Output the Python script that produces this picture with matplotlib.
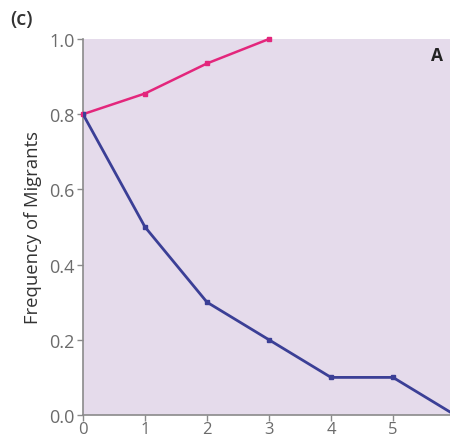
import matplotlib
matplotlib.use("Agg")
import matplotlib.pyplot as plt

gen = [0, 1, 2, 3, 4, 5, 6]
pink_x = [0, 1, 2, 3]
pink_y = [0.80, 0.855, 0.935, 1.00]
blue_y = [0.80, 0.50, 0.30, 0.20, 0.10, 0.10, 0.00]
yticks = [0.0, 0.2, 0.4, 0.6, 0.8, 1.0]

plt.rcParams['font.family'] = ['Open Sans', 'DejaVu Sans']

W, H = 450, 439
fig = plt.figure(figsize=(W/100, H/100), dpi=100)
left, right, top, bottom = 83, 450, 40, 416
ax = fig.add_axes([left/W, 1-bottom/H, (right-left)/W, (bottom-top)/H])
ax.set_facecolor('#e5dbeb')
ax.set_xlim(0, (right-left)/62.0)
ax.set_ylim(0, 1.0)

ax.plot(pink_x, pink_y, color='#e3267c', lw=1.8, marker='s', ms=3.5, clip_on=False, zorder=3)
ax.plot(gen, blue_y, color='#3b3f96', lw=2.0, marker='s', ms=3.5, zorder=3)

ax.set_yticks(yticks)
ax.set_yticklabels([f"{v:.1f}" for v in yticks])
ax.set_xticks(gen[:6])
for s in ['top', 'right']:
    ax.spines[s].set_visible(False)
for s in ['left', 'bottom']:
    ax.spines[s].set_color('#8a8a8a')
    ax.spines[s].set_linewidth(1.2)
ax.tick_params(colors='#8a8a8a', labelcolor='#6b6b6b', labelsize=13, length=4, width=1.0, pad=2)
ax.tick_params(axis='x', labelsize=12, length=4, pad=0)
ax.set_ylabel('Frequency of Migrants', fontsize=13.3, color='#333333', labelpad=5)

fig.text(10/W, 1-20/H, '(c)', fontsize=14.5, fontweight='semibold', color='#333333', va='center', ha='left')
fig.text(431/W, 1-56/H, 'A', fontsize=12.5, fontweight='bold', color='#222222', va='center', ha='left')

fig.savefig('out.png', dpi=100)
